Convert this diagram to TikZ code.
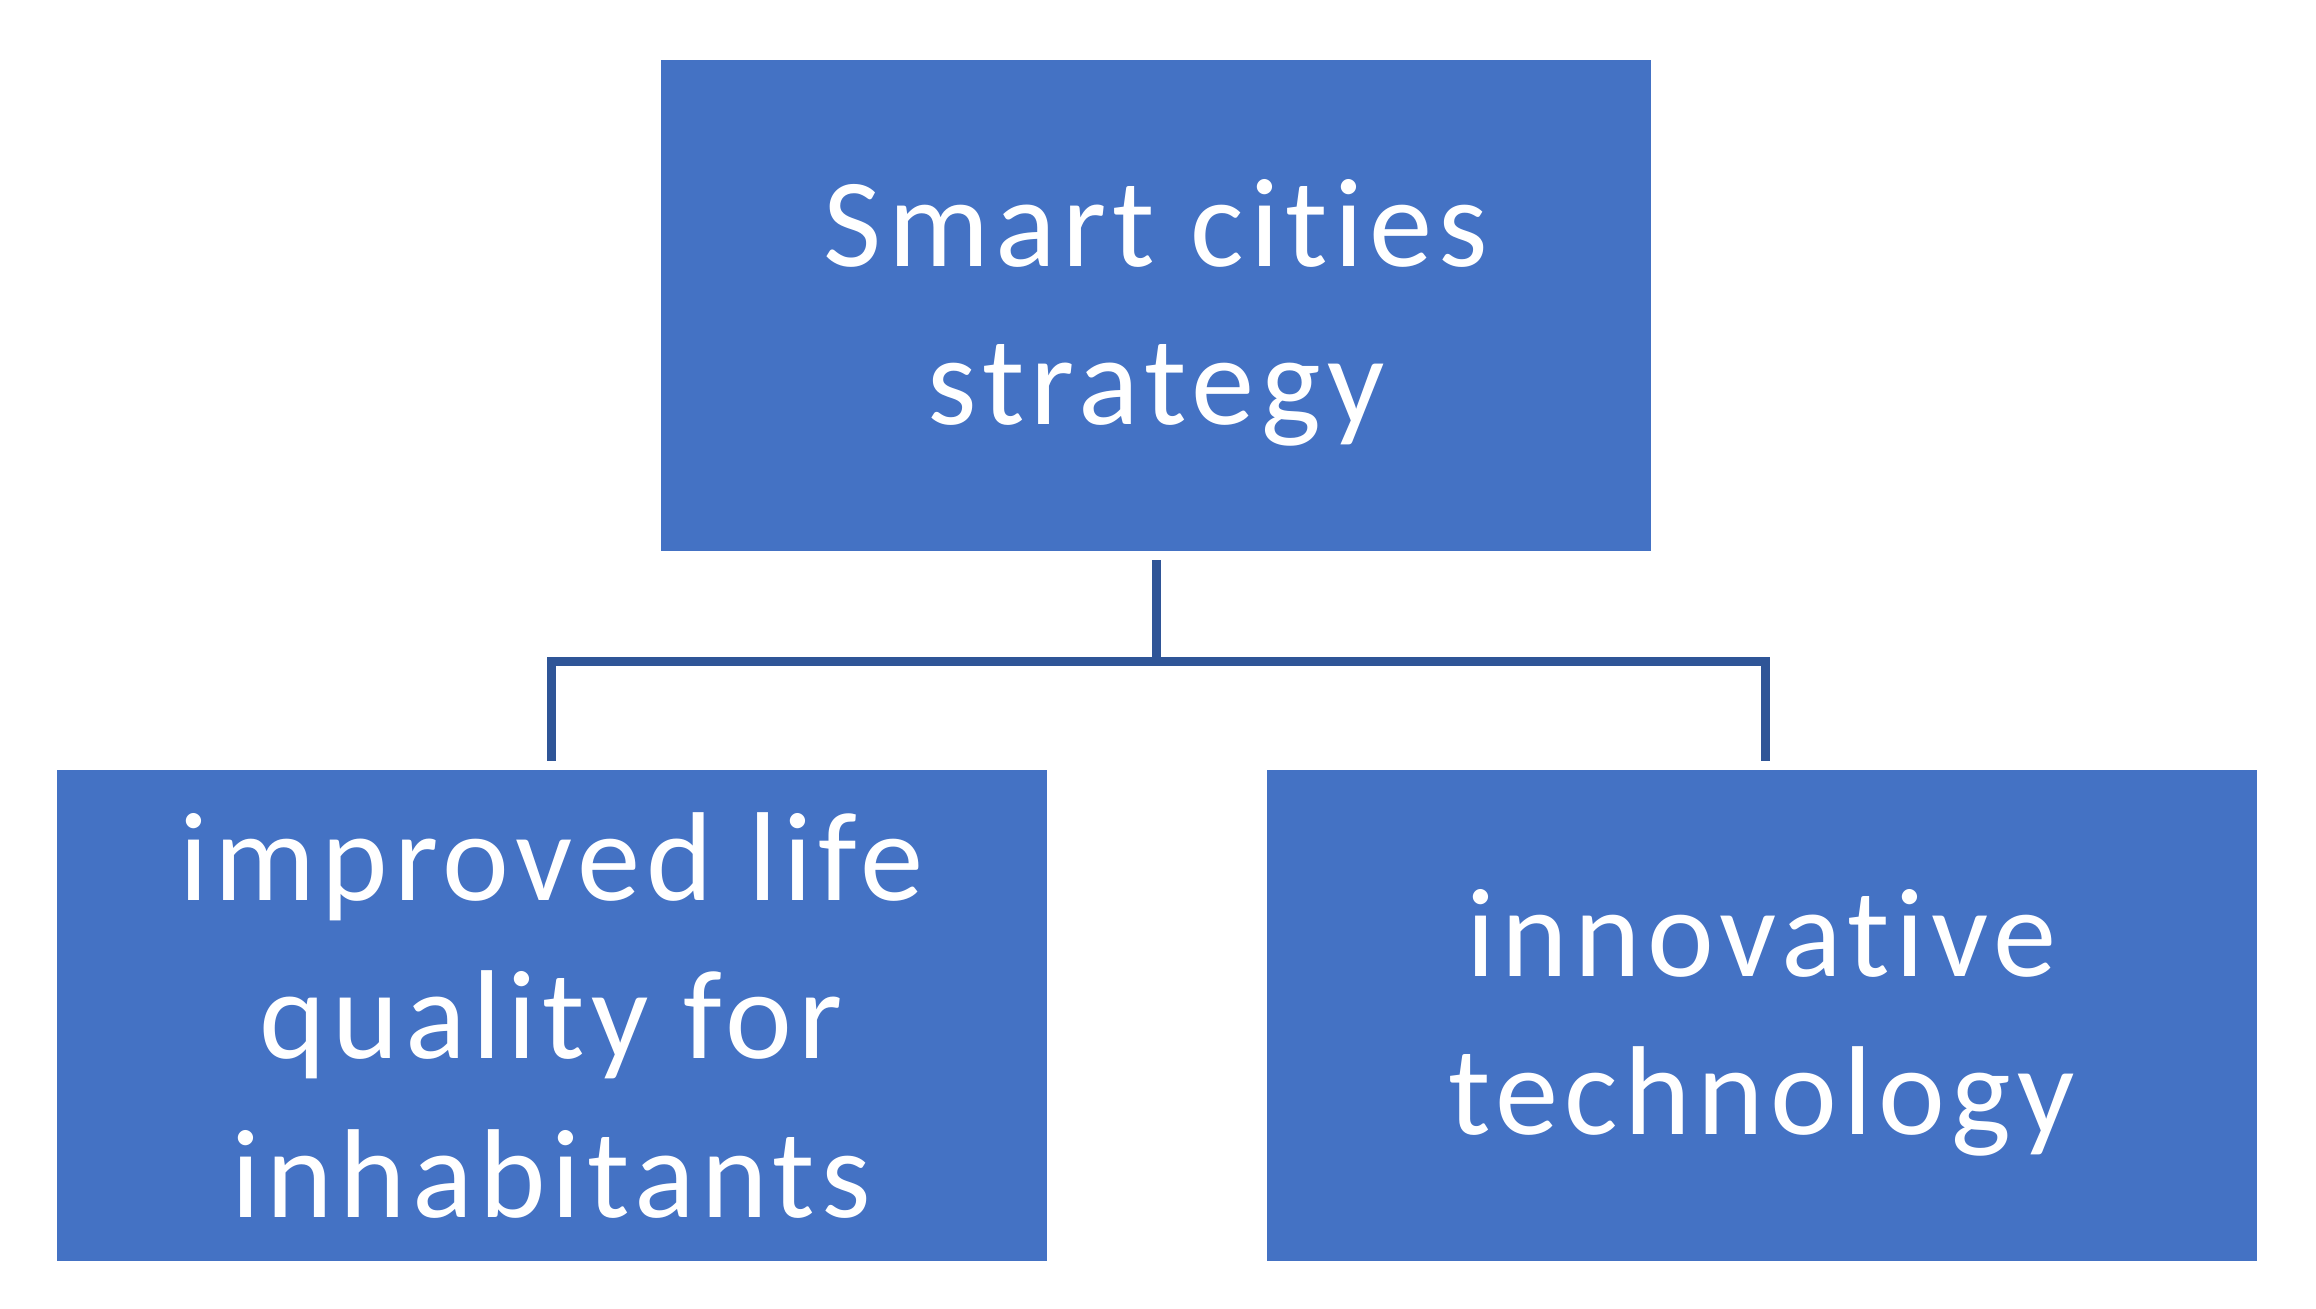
\documentclass[tikz,border=0pt]{standalone}
\usepackage{fontspec}
\setmainfont{Carlito}[LetterSpace=5, RawFeature={-liga}]
\usepackage{tikz}
\usetikzlibrary{positioning}

\definecolor{boxblue}{HTML}{4472C4}
\definecolor{linkblue}{HTML}{2F5597}
\newcommand{\lowerline}[1]{\raisebox{-0.07cm}[\height][\depth]{#1}}

\begin{document}
\begin{tikzpicture}[
    block/.style={fill=boxblue, text=white, align=center, minimum width=9.9cm, minimum height=4.91cm,
      inner sep=0pt, font=\fontsize{36}{45}\selectfont},
    link/.style={draw=linkblue, line width=0.09cm, line join=miter}]
    	\useasboundingbox (0,0) rectangle (23.16,13.08);
    	\node[block] (strategy) at (11.56,10.02) {\lowerline{Smart cities}\\\lowerline{strategy}};
    	\node[block] (quality) at (5.515,2.925) {improved life\\quality for\\inhabitants};
    	\node[block] (tech) at (17.615,2.925) {\lowerline{innovative}\\\lowerline{technology}};
    	\coordinate[below=1.09cm of strategy.south] (fork);
    	\draw[link] ([yshift=-0.08cm]strategy.south) -- (fork);
    	\draw[link] (fork) -| ([yshift=0.08cm]quality.north);
    	\draw[link] (fork) -| ([xshift=0.04cm, yshift=0.08cm]tech.north);
    \end{tikzpicture}
\end{document}
